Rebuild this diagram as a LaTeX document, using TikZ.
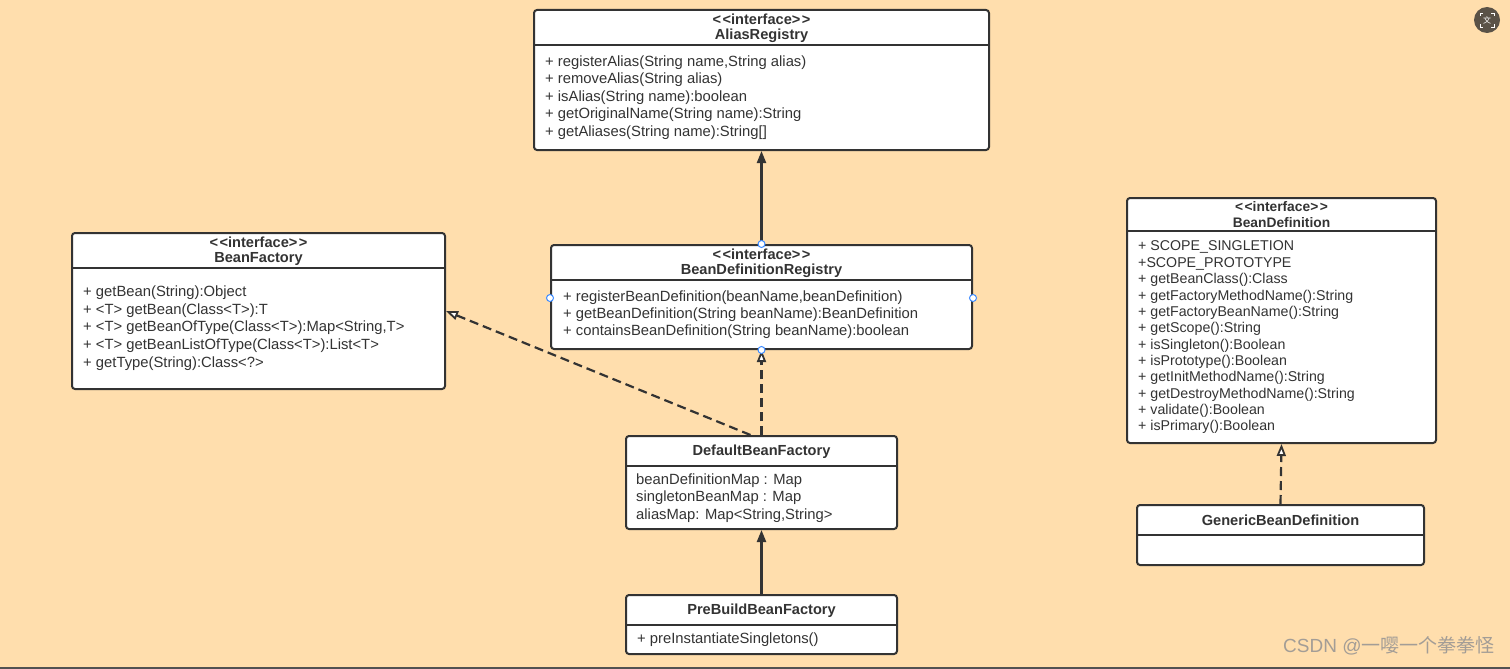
\documentclass[tikz,border=0pt]{standalone}
\usepackage{fontspec}
\setmainfont{Liberation Sans}
\newfontfamily\cjkfont{Noto Sans CJK SC}
\usetikzlibrary{arrows.meta}
\definecolor{bgc}{HTML}{FFDEAD}
\definecolor{ink}{HTML}{333333}
\definecolor{handle}{HTML}{3D8BFF}
\definecolor{wm}{HTML}{A39D96}
\definecolor{iconc}{HTML}{5A5247}
\tikzset{
 umlbox/.style={draw=ink, line width=2pt, fill=white, rounded corners=3pt, inner sep=0pt},
 divider/.style={draw=ink, line width=2pt},
 memb/.style={anchor=west, inner sep=0pt, text=ink, font=\fontsize{14.8}{17}\selectfont},
 ttl/.style={anchor=center, inner sep=0pt, text=ink, font=\fontsize{14.6}{17}\selectfont\bfseries},
 realize/.style={draw=ink, line width=2.2pt, dash pattern=on 9pt off 5pt, -{Triangle[fill=white, length=12pt, width=9pt, line width=1.8pt]}},
 generalize/.style={draw=ink, line width=2.2pt, -{Triangle[length=12pt, width=9pt]}},
 hdl/.style={circle, draw=handle, fill=white, line width=1pt, minimum size=7pt, inner sep=0pt},
}
\newcommand\umlrect[5]{\node[umlbox, minimum width={#4-#2}, minimum height={#5-#3}] (#1) at ({(#2+#4)/2},{(#3+#5)/2}) {};}
\newcommand\umldiv[2]{\draw[divider] (#1.west |- 0,#2) -- (#1.east |- 0,#2);}
\newcommand\stereo{<\kern1.5pt<interface>\kern1.5pt>}
\begin{document}
\begin{tikzpicture}[x=1pt,y=-1pt]
\useasboundingbox (0,0) rectangle (1510,669);
\fill[bgc] (0,0) rectangle (1510,669);
\draw[ink!85, line width=2pt] (0,668) -- (1510,668);

% AliasRegistry
\umlrect{alias}{534}{10}{989}{150}
\umldiv{alias}{45}
\node[ttl] (aliasS) at (761.5,19.5) {\stereo};
\node[ttl] (aliasT) at (761.5,36) {AliasRegistry};
\node[memb] (a1) at (545,63) {+ registerAlias(String name,String alias)};
\node[memb] (a2) at (545,80) {+ removeAlias(String alias)};
\node[memb] (a3) at (545,97.5) {+ isAlias(String name):boolean};
\node[memb] (a4) at (545,115) {+ getOriginalName(String name):String};
\node[memb] (a5) at (545,132.5) {+ getAliases(String name):String[]};

% BeanFactory
\umlrect{bf}{72}{233}{445}{389}
\umldiv{bf}{268}
\node[ttl] (bfS) at (258.5,242.5) {\stereo};
\node[ttl] (bfT) at (258.5,259) {BeanFactory};
\node[memb] (b1) at (83,292.5) {+ getBean(String):Object};
\node[memb] (b2) at (83,310.5) {+ <T> getBean(Class<T>):T};
\node[memb] (b3) at (83,328) {+ <T> getBeanOfType(Class<T>):Map<String,T>};
\node[memb] (b4) at (83,346) {+ <T> getBeanListOfType(Class<T>):List<T>};
\node[memb] (b5) at (83,363.5) {+ getType(String):Class<?>};

% BeanDefinitionRegistry
\umlrect{bdr}{551}{245}{972}{349}
\umldiv{bdr}{280}
\node[ttl] (bdrS) at (761.5,254.5) {\stereo};
\node[ttl] (bdrT) at (761.5,271) {BeanDefinitionRegistry};
\node[memb] (r1) at (563,298) {+ registerBeanDefinition(beanName,beanDefinition)};
\node[memb] (r2) at (563,315) {+ getBeanDefinition(String beanName):BeanDefinition};
\node[memb] (r3) at (563,332) {+ containsBeanDefinition(String beanName):boolean};

% BeanDefinition
\umlrect{bd}{1127}{198}{1436}{443}
\umldiv{bd}{231.3}
\node[ttl, font=\fontsize{13.8}{16}\selectfont\bfseries] (bdS) at (1281.5,207) {\stereo};
\node[ttl, font=\fontsize{13.8}{16}\selectfont\bfseries] (bdT) at (1281.5,222.5) {BeanDefinition};
\foreach \t [count=\i from 0] in {%
 {+ SCOPE\_SINGLETION},{+SCOPE\_PROTOTYPE},{+ getBeanClass():Class},
 {+ getFactoryMethodName():String},{+ getFactoryBeanName():String},
 {+ getScope():String},{+ isSingleton():Boolean},{+ isPrototype():Boolean},
 {+ getInitMethodName():String},{+ getDestroyMethodName():String},
 {+ validate():Boolean},{+ isPrimary():Boolean}}
 \node[memb, font=\fontsize{14.2}{16}\selectfont] (d\i) at (1138,{247.3+16.36*\i}) {\t};

% DefaultBeanFactory
\umlrect{dbf}{626}{436}{897}{529}
\umldiv{dbf}{465.5}
\node[ttl] (dbfT) at (761.5,451.5) {DefaultBeanFactory};
\node[memb] (f1) at (636,481) {beanDefinitionMap : Map};
\node[memb] (f2) at (636,498) {singletonBeanMap : Map};
\node[memb] (f3) at (636,515.5) {aliasMap: Map<String,String>};

% PreBuildBeanFactory
\umlrect{pre}{626}{595}{897}{654}
\umldiv{pre}{625}
\node[ttl] (preT) at (761.5,610.5) {PreBuildBeanFactory};
\node[memb] (p1) at (637,640) {+ preInstantiateSingletons()};

% GenericBeanDefinition
\umlrect{gbd}{1137}{505}{1424}{565}
\umldiv{gbd}{535}
\node[ttl] (gbdT) at (1280.5,520.5) {GenericBeanDefinition};

% connectors
\draw[generalize] (bdr.north) -- (alias.south);
\draw[realize] (dbf.north) -- (bdr.south);
\coordinate (dbfL) at ([xshift=-11pt]dbf.north);
\draw[realize] (dbfL) -- (bf.east);
\draw[generalize] (pre.north) -- (dbf.south);
\draw[realize] (gbd.north) -- (bd.south);

% selection handles
\node[hdl] (h1) at (bdr.north) {};
\node[hdl] (h2) at (bdr.south) {};
\node[hdl] (h3) at (bdr.west |- 0,298) {};
\node[hdl] (h4) at (bdr.east |- 0,298) {};

% icon
\node[circle, fill=iconc, minimum size=26pt, inner sep=0pt] (icon) at (1487,20) {};
\node[text=white, inner sep=0pt, font=\cjkfont\fontsize{8}{8}\selectfont] (iconT) at (icon.center) {文};
\draw[white, line width=0.9pt] ([shift={(-7,-4)}]icon.center) -- ([shift={(-7,-7)}]icon.center) -- ([shift={(-4,-7)}]icon.center);
\draw[white, line width=0.9pt] ([shift={(7,-4)}]icon.center) -- ([shift={(7,-7)}]icon.center) -- ([shift={(4,-7)}]icon.center);
\draw[white, line width=0.9pt] ([shift={(-7,4)}]icon.center) -- ([shift={(-7,7)}]icon.center) -- ([shift={(-4,7)}]icon.center);
\draw[white, line width=0.9pt] ([shift={(7,4)}]icon.center) -- ([shift={(7,7)}]icon.center) -- ([shift={(4,7)}]icon.center);

% watermark
\node[anchor=west, inner sep=0pt, text=wm, font=\cjkfont\fontsize{19}{22}\selectfont] (wmark) at (1283,646) {{\fontspec{Liberation Sans}CSDN @}一嘤一个拳拳怪};
\end{tikzpicture}
\end{document}
